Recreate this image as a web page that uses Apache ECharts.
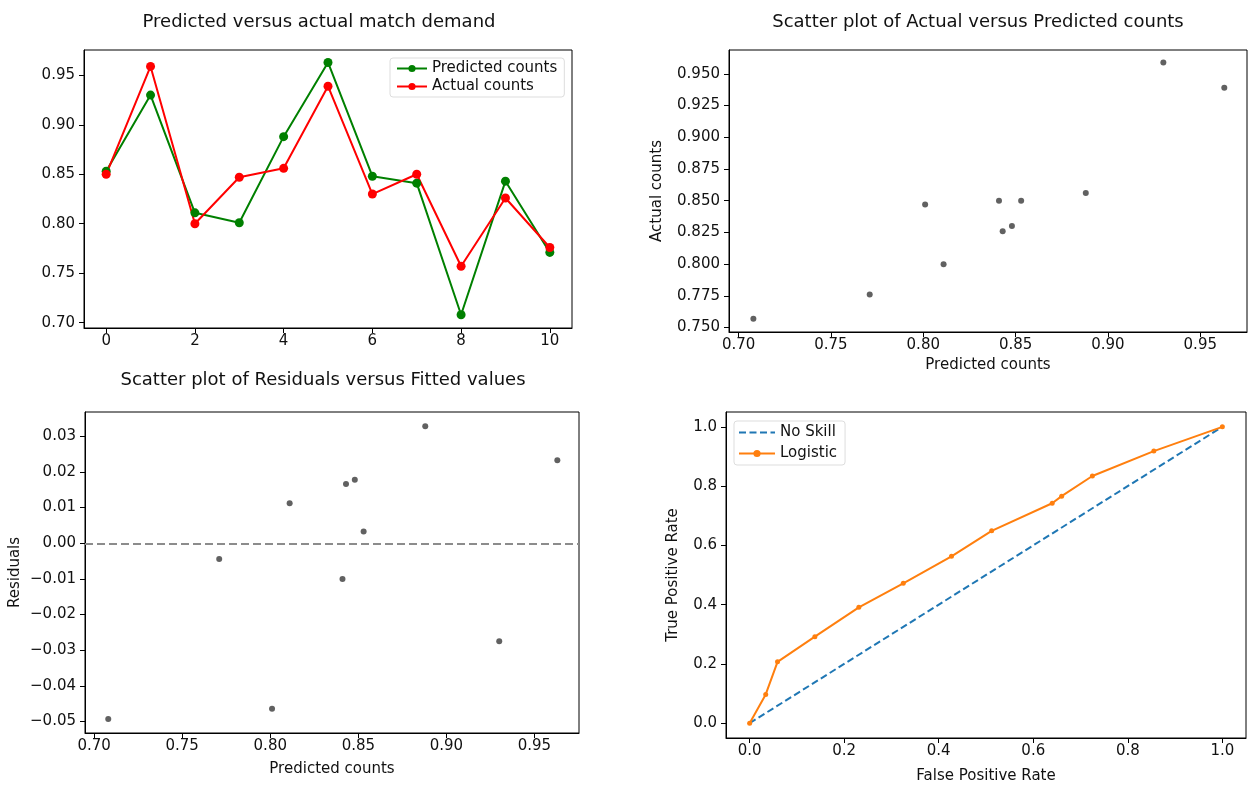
<!DOCTYPE html>
<html>
<head>
<meta charset="utf-8">
<script src="https://cdn.jsdelivr.net/npm/echarts@6/dist/echarts.min.js"></script>
<style>
  html, body { margin: 0; padding: 0; background: #fff; }
  #main { width: 1249px; height: 787px; }
</style>
</head>
<body>
<div id="main"></div>
<script>
  // match index 0..10
  const matchIdx = [0, 1, 2, 3, 4, 5, 6, 7, 8, 9, 10];
  const predicted = [0.853, 0.930, 0.811, 0.801, 0.888, 0.963, 0.848, 0.841, 0.708, 0.843, 0.771];
  const actual = [0.850, 0.959, 0.800, 0.847, 0.856, 0.939, 0.830, 0.850, 0.757, 0.826, 0.776];
  const residuals = [0.0033, -0.0275, 0.0112, -0.0464, 0.0328, 0.0233, 0.0178, -0.0100, -0.0493, 0.0166, -0.0044];

  // ROC curve
  const fpr = [0, 0.034, 0.059, 0.138, 0.231, 0.325, 0.427, 0.512, 0.640, 0.660, 0.725, 0.855, 1];
  const tpr = [0, 0.097, 0.207, 0.292, 0.391, 0.472, 0.563, 0.649, 0.742, 0.766, 0.834, 0.918, 1];
  const noSkill = [0, 1];

  // tick labels
  const idxTicks = [0, 2, 4, 6, 8, 10];
  const countTicks = [0.70, 0.75, 0.80, 0.85, 0.90, 0.95];
  const actualTicks = [0.750, 0.775, 0.800, 0.825, 0.850, 0.875, 0.900, 0.925, 0.950];
  const residTicks = [-0.05, -0.04, -0.03, -0.02, -0.01, 0.00, 0.01, 0.02, 0.03];
  const rateTicks = [0, 0.2, 0.4, 0.6, 0.8, 1.0];

  const FONT = 'DejaVu Sans';
  const fmt = d => v => (v < 0 ? '\u2212' : '') + Math.abs(v).toFixed(d);

  function axis(opts, ticks, digits, isY) {
    return Object.assign({
      type: 'value',
      scale: true,
      splitLine: { show: false },
      axisLine: { show: true, onZero: false, lineStyle: { color: '#000', width: 1 } },
      axisTick: { show: true, length: 5, customValues: ticks, lineStyle: { color: '#000' } },
      axisLabel: {
        customValues: ticks,
        formatter: fmt(digits),
        color: '#111',
        fontFamily: FONT,
        fontSize: 15,
        margin: isY ? 9 : 6
      },
      nameLocation: 'middle',
      nameTextStyle: { fontFamily: FONT, fontSize: 15, color: '#111' }
    }, opts);
  }

  const titleStyle = { fontFamily: FONT, fontSize: 18, fontWeight: 'normal', color: '#111' };

  const chart = echarts.init(document.getElementById('main'));
  const gridBase = { show: true, borderColor: '#000', borderWidth: 1, containLabel: false };

  chart.setOption({
    backgroundColor: '#fff',
    animation: false,
    title: [
      { text: 'Predicted versus actual match demand', left: 314, top: 8, textAlign: 'center', textStyle: titleStyle },
      { text: 'Scatter plot of Actual versus Predicted counts', left: 973, top: 8, textAlign: 'center', textStyle: titleStyle },
      { text: 'Scatter plot of Residuals versus Fitted values', left: 318, top: 366, textAlign: 'center', textStyle: titleStyle }
    ],
    legend: [
      {
        data: ['Predicted counts', 'Actual counts'],
        orient: 'vertical', left: 390, top: 58,
        itemWidth: 30, itemHeight: 9, itemGap: 3,
        padding: [3, 7, 3, 6],
        backgroundColor: '#fff', borderColor: '#ddd', borderWidth: 1, borderRadius: 3,
        textStyle: { fontFamily: FONT, fontSize: 15, color: '#111' }
      },
      {
        data: [{ name: 'No Skill', itemStyle: { opacity: 0 } }, 'Logistic'],
        orient: 'vertical', left: 734, top: 421,
        itemWidth: 36, itemHeight: 9, itemGap: 6,
        padding: [4, 8, 4, 4],
        backgroundColor: '#fff', borderColor: '#ddd', borderWidth: 1, borderRadius: 3,
        textStyle: { fontFamily: FONT, fontSize: 15, color: '#111' }
      }
    ],
    grid: [
      Object.assign({ left: 84, top: 50, width: 488, height: 278 }, gridBase),
      Object.assign({ left: 729, top: 50, width: 518, height: 282 }, gridBase),
      Object.assign({ left: 85, top: 412, width: 494, height: 321 }, gridBase),
      Object.assign({ left: 726, top: 412, width: 520, height: 326 }, gridBase)
    ],
    xAxis: [
      axis({ gridIndex: 0, min: -0.5, max: 10.5 }, idxTicks, 0, false),
      axis({ gridIndex: 1, min: 0.6948, max: 0.9753, name: 'Predicted counts', nameGap: 26 }, countTicks, 2, false),
      axis({ gridIndex: 2, min: 0.6948, max: 0.9753, name: 'Predicted counts', nameGap: 29 }, countTicks, 2, false),
      axis({ gridIndex: 3, min: -0.05, max: 1.05, name: 'False Positive Rate', nameGap: 31 }, rateTicks, 1, false)
    ],
    yAxis: [
      axis({ gridIndex: 0, min: 0.6946, max: 0.9756 }, countTicks, 2, true),
      axis({ gridIndex: 1, min: 0.7465, max: 0.9688, name: 'Actual counts', nameGap: 64 }, actualTicks, 3, true),
      axis({ gridIndex: 2, min: -0.0532, max: 0.0368, name: 'Residuals', nameGap: 62 }, residTicks, 2, true),
      axis({ gridIndex: 3, min: -0.05, max: 1.05, name: 'True Positive Rate', nameGap: 45 }, rateTicks, 1, true)
    ],
    series: [
      {
        name: 'Predicted counts', type: 'line', xAxisIndex: 0, yAxisIndex: 0,
        data: matchIdx.map((i, k) => [i, predicted[k]]),
        symbol: 'circle', symbolSize: 9, color: '#008000',
        lineStyle: { color: '#008000', width: 2 }, itemStyle: { color: '#008000' }
      },
      {
        name: 'Actual counts', type: 'line', xAxisIndex: 0, yAxisIndex: 0,
        data: matchIdx.map((i, k) => [i, actual[k]]),
        symbol: 'circle', symbolSize: 9, color: '#ff0000',
        lineStyle: { color: '#ff0000', width: 2 }, itemStyle: { color: '#ff0000' }
      },
      {
        name: 'actual vs predicted', type: 'scatter', xAxisIndex: 1, yAxisIndex: 1,
        data: predicted.map((p, k) => [p, actual[k]]),
        symbolSize: 6, itemStyle: { color: '#3a3a3a' }
      },
      {
        name: 'residuals', type: 'scatter', xAxisIndex: 2, yAxisIndex: 2,
        data: predicted.map((p, k) => [p, residuals[k]]),
        symbolSize: 6, itemStyle: { color: '#3a3a3a' },
        markLine: {
          silent: true, symbol: 'none', label: { show: false },
          lineStyle: { color: '#8c8c8c', width: 2, type: [8, 4] },
          data: [{ yAxis: 0 }]
        }
      },
      {
        name: 'No Skill', type: 'line', xAxisIndex: 3, yAxisIndex: 3,
        data: noSkill.map(v => [v, v]),
        symbol: 'none', color: '#1f77b4',
        lineStyle: { color: '#1f77b4', width: 2, type: [7, 3.5] }
      },
      {
        name: 'Logistic', type: 'line', xAxisIndex: 3, yAxisIndex: 3,
        data: fpr.map((f, k) => [f, tpr[k]]),
        symbol: 'circle', symbolSize: 5, color: '#ff7f0e',
        lineStyle: { color: '#ff7f0e', width: 2 }, itemStyle: { color: '#ff7f0e' }
      }
    ]
  });
</script>
</body>
</html>
